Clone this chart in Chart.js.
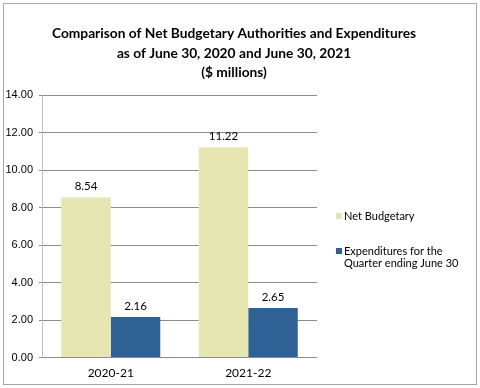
<!DOCTYPE html>
<html><head><meta charset="utf-8">
<script src="https://cdn.jsdelivr.net/npm/chart.js@4/dist/chart.umd.min.js"></script>
<style>html,body{margin:0;padding:0;background:#fff;}canvas{display:block;}</style>
</head><body>
<canvas id="c" width="480" height="388"></canvas>
<script>
const categories = ["2020-21", "2021-22"];
const netBudgetary = [8.54, 11.22];
const expenditures = [2.16, 2.65];
const seriesNames = ["Net Budgetary", ["Expenditures for the", "Quarter ending June 30"]];
const titleLines = ["Comparison of Net Budgetary Authorities and Expenditures", "as of June 30, 2020 and June 30, 2021", "($ millions)"];
const yTicks = [0, 2, 4, 6, 8, 10, 12, 14];

const colors = ["#e5e6b2", "#2f6194"];

const framePlugin = {
  id: 'frame',
  beforeDraw(chart) {
    const ctx = chart.ctx;
    ctx.save();
    ctx.fillStyle = '#fff';
    ctx.fillRect(0, 0, chart.width, chart.height);
    ctx.strokeStyle = '#a6a6a6';
    ctx.lineWidth = 1;
    ctx.strokeRect(3.5, 3.5, 473, 381);
    ctx.restore();
  }
};

const titlePlugin = {
  id: 'centeredTitle',
  afterDraw(chart) {
    const ctx = chart.ctx;
    ctx.save();
    ctx.font = 'bold 13.75px Lato, "Liberation Sans", sans-serif';
    ctx.fillStyle = '#000';
    ctx.textAlign = 'center';
    ctx.textBaseline = 'middle';
    titleLines.forEach((t, i) => ctx.fillText(t, 234, 34 + i * 19.5));
    ctx.restore();
  }
};

const labelPlugin = {
  id: 'valueLabels',
  afterDatasetsDraw(chart) {
    const ctx = chart.ctx;
    ctx.save();
    ctx.font = '11.5px Lato, "Liberation Sans", sans-serif';
    ctx.fillStyle = '#000';
    ctx.textAlign = 'center';
    ctx.textBaseline = 'middle';
    chart.data.datasets.forEach((ds, i) => {
      chart.getDatasetMeta(i).data.forEach((bar, j) => {
        ctx.fillText(ds.data[j].toFixed(2), bar.x, bar.y - 11);
      });
    });
    ctx.restore();
  }
};

const legendPlugin = {
  id: 'sideLegend',
  afterDraw(chart) {
    const ctx = chart.ctx;
    const area = chart.chartArea;
    ctx.save();
    ctx.font = '11px Lato, "Liberation Sans", sans-serif';
    ctx.textBaseline = 'middle';
    ctx.textAlign = 'left';
    const x0 = area.right + 19;
    const starts = [216, 251];
    seriesNames.forEach((name, i) => {
      const lines = Array.isArray(name) ? name : [name];
      const y = starts[i];
      ctx.fillStyle = colors[i];
      ctx.fillRect(x0, y - 3, 6, 6);
      ctx.fillStyle = '#000';
      lines.forEach((ln, k) => ctx.fillText(ln, x0 + 8, y + k * 12));
    });
    ctx.restore();
  }
};

new Chart(document.getElementById('c'), {
  type: 'bar',
  data: {
    labels: categories,
    datasets: [
      { label: "Net Budgetary", data: netBudgetary, backgroundColor: colors[0], barPercentage: 1, categoryPercentage: 0.72 },
      { label: "Expenditures for the Quarter ending June 30", data: expenditures, backgroundColor: colors[1], barPercentage: 1, categoryPercentage: 0.72 }
    ]
  },
  options: {
    responsive: false,
    animation: false,
    devicePixelRatio: 1,
    layout: { padding: { left: 0, right: 163, top: 95, bottom: 0 } },
    plugins: {
      legend: { display: false },
      tooltip: { enabled: false },
      title: { display: false }
    },
    scales: {
      x: {
        grid: { display: false, drawTicks: false },
        border: { display: false },
        ticks: { color: '#000', font: { family: 'Lato, "Liberation Sans", sans-serif', size: 12 }, padding: 8 }
      },
      y: {
        min: 0, max: 14,
        afterFit(scale) { scale.width = 42; },
        afterBuildTicks(scale) { scale.ticks = yTicks.map(v => ({ value: v })); },
        grid: { color: '#8c8c8c', tickLength: 3, lineWidth: 1 },
        border: { display: true, color: '#bfbfbf' },
        ticks: {
          color: '#000', padding: 6,
          font: { family: '"Liberation Sans", Arial, sans-serif', size: 11 },
          callback: v => Number(v).toFixed(2)
        }
      }
    }
  },
  plugins: [framePlugin, labelPlugin, legendPlugin, titlePlugin]
});
</script>
</body></html>
